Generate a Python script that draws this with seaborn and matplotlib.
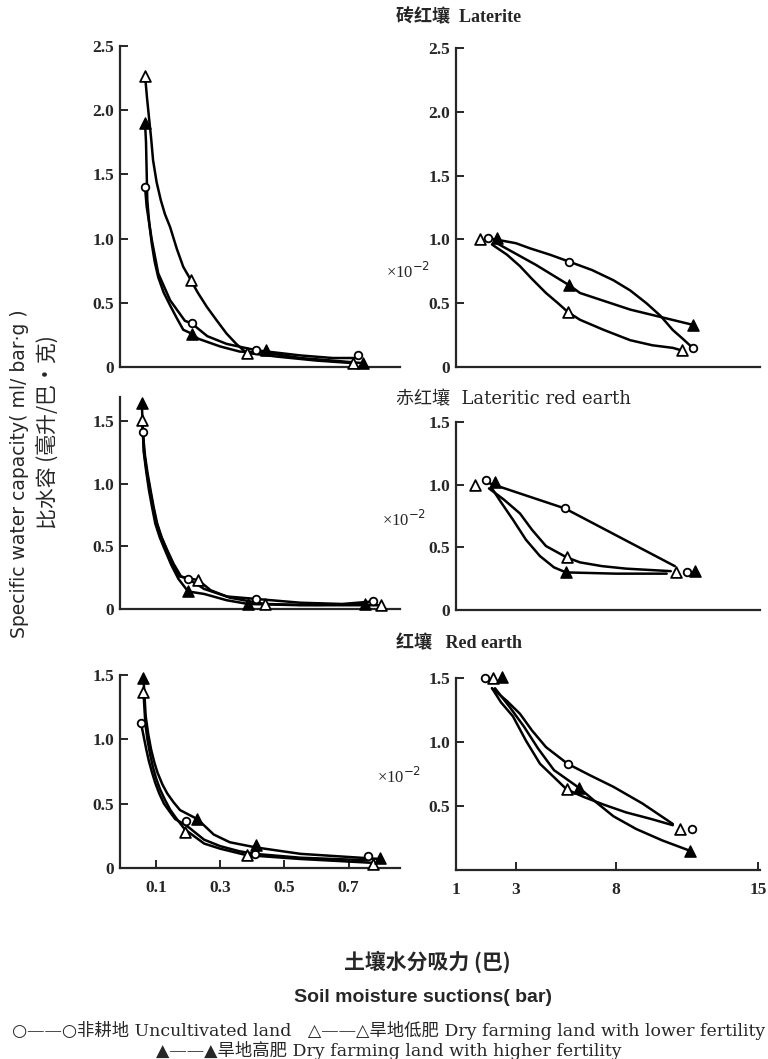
import matplotlib
import matplotlib.pyplot as plt
import numpy as np
import seaborn as sns

# Use the Agg backend, no display here
matplotlib.use("Agg")

W, H = 768, 1059

# ---- data ----
# marker points (x = suction in bar, y = specific water capacity)
# Laterite, low suction
lat_lo_unc_x = [0.066, 0.211, 0.413, 0.729]
lat_lo_unc_y = [1.40, 0.34, 0.13, 0.09]
lat_lo_low_x = [0.066, 0.208, 0.382, 0.715]
lat_lo_low_y = [2.27, 0.68, 0.11, 0.03]
lat_lo_high_x = [0.066, 0.211, 0.444, 0.745]
lat_lo_high_y = [1.90, 0.26, 0.13, 0.03]
# hand-drawn curves
lat_lo_unc_cx = [0.066, 0.071, 0.087, 0.107, 0.144, 0.19, 0.211, 0.26, 0.32, 0.413, 0.55, 0.65, 0.729]
lat_lo_unc_cy = [1.40, 1.25, 0.99, 0.73, 0.52, 0.36, 0.34, 0.24, 0.18, 0.13, 0.09, 0.07, 0.07]
lat_lo_low_cx = [0.066, 0.072, 0.078, 0.085, 0.091, 0.102, 0.115, 0.128, 0.144, 0.165, 0.185, 0.208,
                 0.23, 0.258, 0.29, 0.32, 0.35, 0.382, 0.48, 0.6, 0.715]
lat_lo_low_cy = [2.27, 2.10, 1.95, 1.78, 1.61, 1.44, 1.30, 1.19, 1.09, 0.92, 0.78, 0.68,
                 0.58, 0.47, 0.36, 0.26, 0.18, 0.11, 0.08, 0.05, 0.03]
lat_lo_high_cx = [0.066, 0.069, 0.073, 0.079, 0.087, 0.096, 0.107, 0.124, 0.144, 0.165, 0.185, 0.211,
                  0.232, 0.30, 0.361, 0.444, 0.55, 0.65, 0.745]
lat_lo_high_cy = [1.90, 1.75, 1.30, 1.12, 0.96, 0.82, 0.70, 0.58, 0.48, 0.38, 0.29, 0.26,
                  0.22, 0.16, 0.12, 0.11, 0.07, 0.05, 0.03]

# Laterite, high suction (x10^-2)
lat_hi_unc_x = [2.08, 5.67, 11.78]
lat_hi_unc_y = [1.01, 0.825, 0.15]
lat_hi_low_x = [1.8, 5.6, 11.24]
lat_hi_low_y = [1.0, 0.43, 0.13]
lat_hi_high_x = [2.36, 5.67, 11.8]
lat_hi_high_y = [1.01, 0.64, 0.33]
lat_hi_unc_cx = [2.08, 3.0, 3.7, 4.7, 5.67, 6.8, 7.87, 8.7, 9.5, 10.2, 10.8, 11.3, 11.78]
lat_hi_unc_cy = [1.01, 0.97, 0.93, 0.88, 0.825, 0.76, 0.68, 0.60, 0.50, 0.40, 0.29, 0.22, 0.15]
lat_hi_low_cx = [2.2, 2.7, 3.2, 3.8, 4.5, 5.1, 5.6, 6.2, 7.4, 8.7, 9.8, 10.8, 11.24]
lat_hi_low_cy = [0.96, 0.88, 0.79, 0.69, 0.58, 0.50, 0.43, 0.37, 0.29, 0.21, 0.17, 0.15, 0.13]
lat_hi_high_cx = [2.36, 4.0, 5.67, 6.2, 8.7, 11.8]
lat_hi_high_cy = [0.97, 0.80, 0.64, 0.58, 0.45, 0.33]

# Lateritic red earth, low suction
lre_lo_unc_x = [0.059, 0.20, 0.413, 0.776]
lre_lo_unc_y = [1.41, 0.24, 0.08, 0.06]
lre_lo_low_x = [0.056, 0.232, 0.439, 0.80]
lre_lo_low_y = [1.51, 0.23, 0.04, 0.03]
lre_lo_high_x = [0.056, 0.20, 0.387, 0.75]
lre_lo_high_y = [1.64, 0.14, 0.04, 0.04]
lre_lo_unc_cx = [0.059, 0.066, 0.074, 0.083, 0.093, 0.104, 0.118, 0.135, 0.155, 0.178, 0.20,
                 0.25, 0.32, 0.413, 0.55, 0.68, 0.776]
lre_lo_unc_cy = [1.41, 1.22, 1.08, 0.95, 0.81, 0.68, 0.57, 0.47, 0.36, 0.26, 0.24,
                 0.16, 0.10, 0.08, 0.05, 0.04, 0.06]
lre_lo_low_cx = [0.056, 0.063, 0.071, 0.08, 0.09, 0.10, 0.114, 0.13, 0.15, 0.172, 0.232,
                 0.27, 0.33, 0.439, 0.6, 0.80]
lre_lo_low_cy = [1.51, 1.25, 1.10, 0.97, 0.83, 0.70, 0.59, 0.49, 0.37, 0.26, 0.23,
                 0.15, 0.09, 0.04, 0.03, 0.03]
lre_lo_high_cx = [0.056, 0.062, 0.07, 0.078, 0.088, 0.098, 0.112, 0.128, 0.148, 0.17, 0.20,
                  0.25, 0.32, 0.387, 0.55, 0.75]
lre_lo_high_cy = [1.64, 1.25, 1.09, 0.95, 0.81, 0.68, 0.57, 0.47, 0.35, 0.24, 0.14,
                  0.12, 0.07, 0.04, 0.03, 0.04]

# Lateritic red earth, high suction (x10^-2)
lre_hi_unc_x = [2.0, 5.45, 11.5]
lre_hi_unc_y = [1.04, 0.81, 0.30]
lre_hi_low_x = [1.63, 5.53, 10.96]
lre_hi_low_y = [1.0, 0.42, 0.30]
lre_hi_high_x = [2.3, 5.5, 11.9]
lre_hi_high_y = [1.02, 0.30, 0.31]
lre_hi_unc_cx = [2.0, 5.45, 10.9]
lre_hi_unc_cy = [1.02, 0.81, 0.35]
lre_hi_low_cx = [2.1, 2.6, 3.2, 3.8, 4.5, 5.53, 6.2, 7.3, 8.5, 10.7]
lre_hi_low_cy = [0.97, 0.88, 0.77, 0.64, 0.51, 0.42, 0.38, 0.35, 0.33, 0.31]
lre_hi_high_cx = [2.2, 2.5, 2.9, 3.5, 4.2, 4.9, 5.5, 8.0, 10.5]
lre_hi_high_cy = [0.97, 0.86, 0.72, 0.56, 0.43, 0.34, 0.30, 0.29, 0.29]

# Red earth, low suction
red_lo_unc_x = [0.053, 0.195, 0.408, 0.76]
red_lo_unc_y = [1.13, 0.365, 0.11, 0.09]
red_lo_low_x = [0.061, 0.19, 0.382, 0.776]
red_lo_low_y = [1.37, 0.28, 0.10, 0.03]
red_lo_high_x = [0.061, 0.229, 0.411, 0.797]
red_lo_high_y = [1.48, 0.38, 0.18, 0.08]
red_lo_unc_cx = [0.053, 0.062, 0.07, 0.078, 0.088, 0.098, 0.11, 0.125, 0.142, 0.16, 0.195,
                 0.25, 0.30, 0.36, 0.408, 0.55, 0.76]
red_lo_unc_cy = [1.13, 1.02, 0.92, 0.83, 0.74, 0.66, 0.58, 0.50, 0.44, 0.38, 0.33,
                 0.22, 0.17, 0.13, 0.11, 0.08, 0.06]
red_lo_low_cx = [0.061, 0.067, 0.074, 0.082, 0.09, 0.10, 0.113, 0.128, 0.145, 0.165, 0.19,
                 0.25, 0.30, 0.382, 0.55, 0.776]
red_lo_low_cy = [1.37, 1.12, 0.99, 0.88, 0.79, 0.70, 0.61, 0.53, 0.45, 0.38, 0.30,
                 0.19, 0.15, 0.10, 0.07, 0.04]
red_lo_high_cx = [0.061, 0.068, 0.076, 0.085, 0.095, 0.105, 0.12, 0.135, 0.155, 0.175, 0.229,
                  0.28, 0.33, 0.411, 0.55, 0.797]
red_lo_high_cy = [1.48, 1.18, 1.04, 0.92, 0.82, 0.74, 0.65, 0.58, 0.51, 0.45, 0.38,
                  0.26, 0.20, 0.16, 0.11, 0.07]

# Red earth, high suction (x10^-2)
red_hi_unc_x = [1.97, 5.58, 11.73]
red_hi_unc_y = [1.5, 0.83, 0.32]
red_hi_low_x = [2.22, 5.53, 11.15]
red_hi_low_y = [1.5, 0.63, 0.32]
red_hi_high_x = [2.52, 6.17, 11.65]
red_hi_high_y = [1.51, 0.64, 0.15]
red_hi_unc_cx = [2.2, 2.7, 3.2, 3.8, 4.5, 5.58, 6.7, 7.87, 9.3, 10.8]
red_hi_unc_cy = [1.42, 1.32, 1.22, 1.09, 0.96, 0.83, 0.74, 0.65, 0.52, 0.36]
red_hi_low_cx = [2.2, 2.5, 2.9, 3.5, 4.2, 5.2, 5.53, 6.4, 7.4, 8.5, 9.7, 10.8]
red_hi_low_cy = [1.42, 1.31, 1.2, 1.01, 0.83, 0.68, 0.63, 0.57, 0.51, 0.45, 0.40, 0.35]
red_hi_high_cx = [2.3, 2.8, 3.4, 4.1, 4.9, 6.17, 7.0, 7.87, 9.0, 10.3, 11.65]
red_hi_high_cy = [1.42, 1.27, 1.12, 0.95, 0.78, 0.64, 0.53, 0.42, 0.32, 0.23, 0.15]

# ticks
y_ticks_25 = [0, 0.5, 1.0, 1.5, 2.0, 2.5]
y_labels_25 = ["0", "0.5", "1.0", "1.5", "2.0", "2.5"]
y_ticks_15 = [0, 0.5, 1.0, 1.5]
y_labels_15 = ["0", "0.5", "1.0", "1.5"]
y_ticks_15b = [0.5, 1.0, 1.5]
y_labels_15b = ["0.5", "1.0", "1.5"]
x_ticks_lo = [0.1, 0.3, 0.5, 0.7]
x_labels_lo = ["0.1", "0.3", "0.5", "0.7"]
x_ticks_hi = [1, 3, 8, 15]
x_labels_hi = ["1", "3", "8", "15"]

# the printed suction axis on the right is unevenly spaced
scale_vals = [0, 1, 3, 8, 15, 20]
scale_pos = [-30, 0, 60, 160, 302, 403]

SERIF = ["Liberation Serif", "Noto Sans CJK SC", "DejaVu Sans"]
WIDE_SERIF = ["DejaVu Serif", "Noto Sans CJK SC", "DejaVu Sans"]
CJK = ["Noto Sans CJK SC", "DejaVu Sans"]


def fwd(x):
    return np.interp(x, scale_vals, scale_pos)


def inv(p):
    return np.interp(p, scale_pos, scale_vals)


def px_box(x0, y0, x1, y1):
    """Axes rectangle from pixel corners (top-left origin)."""
    return [x0 / W, 1 - y1 / H, (x1 - x0) / W, (y1 - y0) / H]


def fig_text(fig, x, y, s, **kw):
    fig.text(x / W, 1 - y / H, s, **kw)


def draw_panel(ax, series):
    for mx, my, cx, cy, kind in series:
        sns.lineplot(x=cx, y=cy, ax=ax, color="black", lw=1.8,
                     sort=False, estimator=None, clip_on=False)
        if kind == "circle":
            sns.scatterplot(x=mx, y=my, ax=ax, marker="o", s=30, color="white",
                            edgecolor="black", linewidth=1.3, zorder=4, clip_on=False)
        elif kind == "open":
            sns.scatterplot(x=mx, y=my, ax=ax, marker="^", s=60, color="white",
                            edgecolor="black", linewidth=1.3, zorder=4, clip_on=False)
        else:
            sns.scatterplot(x=mx, y=my, ax=ax, marker="^", s=65, color="black",
                            edgecolor="black", linewidth=1.0, zorder=4, clip_on=False)


def style_axes(ax, yticks, ylabels, xticks=None, xlabels=None):
    sns.despine(ax=ax)
    for side in ("left", "bottom"):
        ax.spines[side].set_linewidth(1.6)
    ax.set_yticks(yticks)
    ax.set_yticklabels(ylabels, fontfamily=SERIF, fontsize=12.5, fontweight="bold")
    if xticks is None:
        ax.set_xticks([])
    else:
        ax.set_xticks(xticks)
        ax.set_xticklabels(xlabels, fontfamily=SERIF, fontsize=12.5, fontweight="bold")
    ax.tick_params(axis="y", direction="in", length=6, width=1.4, pad=4)
    ax.tick_params(axis="x", direction="in", length=6, width=1.4, pad=9)
    ax.minorticks_off()
    ax.set_xlabel("")
    ax.set_ylabel("")


sns.set_theme(style="ticks")
plt.rcParams["font.family"] = SERIF

fig = plt.figure(figsize=(W / 100, H / 100), dpi=100)

panels = [
    (px_box(120, 46, 400, 367), "lo", (0, 2.5), y_ticks_25, y_labels_25, False, [
        (lat_lo_unc_x, lat_lo_unc_y, lat_lo_unc_cx, lat_lo_unc_cy, "circle"),
        (lat_lo_low_x, lat_lo_low_y, lat_lo_low_cx, lat_lo_low_cy, "open"),
        (lat_lo_high_x, lat_lo_high_y, lat_lo_high_cx, lat_lo_high_cy, "filled")]),
    (px_box(456, 48, 760, 367), "hi", (0, 2.5), y_ticks_25, y_labels_25, False, [
        (lat_hi_unc_x, lat_hi_unc_y, lat_hi_unc_cx, lat_hi_unc_cy, "circle"),
        (lat_hi_low_x, lat_hi_low_y, lat_hi_low_cx, lat_hi_low_cy, "open"),
        (lat_hi_high_x, lat_hi_high_y, lat_hi_high_cx, lat_hi_high_cy, "filled")]),
    (px_box(120, 397, 400, 609), "lo", (0, 1.69), y_ticks_15, y_labels_15, False, [
        (lre_lo_unc_x, lre_lo_unc_y, lre_lo_unc_cx, lre_lo_unc_cy, "circle"),
        (lre_lo_low_x, lre_lo_low_y, lre_lo_low_cx, lre_lo_low_cy, "open"),
        (lre_lo_high_x, lre_lo_high_y, lre_lo_high_cx, lre_lo_high_cy, "filled")]),
    (px_box(456, 422, 760, 610), "hi", (0, 1.5), y_ticks_15, y_labels_15, False, [
        (lre_hi_unc_x, lre_hi_unc_y, lre_hi_unc_cx, lre_hi_unc_cy, "circle"),
        (lre_hi_low_x, lre_hi_low_y, lre_hi_low_cx, lre_hi_low_cy, "open"),
        (lre_hi_high_x, lre_hi_high_y, lre_hi_high_cx, lre_hi_high_cy, "filled")]),
    (px_box(120, 675, 400, 868), "lo", (0, 1.5), y_ticks_15, y_labels_15, True, [
        (red_lo_unc_x, red_lo_unc_y, red_lo_unc_cx, red_lo_unc_cy, "circle"),
        (red_lo_low_x, red_lo_low_y, red_lo_low_cx, red_lo_low_cy, "open"),
        (red_lo_high_x, red_lo_high_y, red_lo_high_cx, red_lo_high_cy, "filled")]),
    (px_box(456, 678, 760, 870), "hi", (0, 1.5), y_ticks_15b, y_labels_15b, True, [
        (red_hi_unc_x, red_hi_unc_y, red_hi_unc_cx, red_hi_unc_cy, "circle"),
        (red_hi_low_x, red_hi_low_y, red_hi_low_cx, red_hi_low_cy, "open"),
        (red_hi_high_x, red_hi_high_y, red_hi_high_cx, red_hi_high_cy, "filled")]),
]

for box, kind, ylim, yt, yl, bottom, series in panels:
    ax = fig.add_axes(box)
    ax.set_facecolor("white")
    if kind == "hi":
        ax.set_xscale("function", functions=(fwd, inv))
    draw_panel(ax, series)
    if kind == "hi":
        ax.set_xlim(1, 15.1)
        style_axes(ax, yt, yl, x_ticks_hi if bottom else None, x_labels_hi if bottom else None)
    else:
        ax.set_xlim(-0.012, 0.86)
        style_axes(ax, yt, yl, x_ticks_lo if bottom else None, x_labels_lo if bottom else None)
    ax.set_ylim(*ylim)

# soil type headings
fig_text(fig, 396, 18, "砖红壤  Laterite", ha="left", va="center",
         fontsize=13, fontweight="bold", family=SERIF)
fig_text(fig, 396, 399, "赤红壤  Lateritic red earth", ha="left", va="center",
         fontsize=13, family=WIDE_SERIF)
fig_text(fig, 396, 644, "红壤   Red earth", ha="left", va="center",
         fontsize=13, fontweight="bold", family=SERIF)

# multiplier for the right-hand panels
for x, y in [(386, 272), (382, 520), (377, 777)]:
    fig_text(fig, x, y, "×10$^{-2}$", ha="left", va="center",
             fontsize=12, family=SERIF)

# axis titles
fig_text(fig, 20, 474, "Specific water capacity( ml/ bar·g )", rotation=90,
         ha="center", va="center", fontsize=13.5, family=["DejaVu Sans"])
fig_text(fig, 48, 432, "比水容 (毫升/巴·克)", rotation=90,
         ha="center", va="center", fontsize=15, family=CJK)
fig_text(fig, 427, 962, "土壤水分吸力 (巴)", ha="center", va="center",
         fontsize=15, fontweight="bold", family=CJK)
fig_text(fig, 423, 998, "Soil moisture suctions( bar)", ha="center", va="center",
         fontsize=14, fontweight="bold", family=["Liberation Sans", "DejaVu Sans"])

# key
fig_text(fig, 389, 1030,
         "○——○非耕地 Uncultivated land   △——△旱地低肥 Dry farming land with lower fertility",
         ha="center", va="center", fontsize=12.5, family=WIDE_SERIF)
fig_text(fig, 389, 1050,
         "▲——▲旱地高肥 Dry farming land with higher fertility",
         ha="center", va="center", fontsize=12.5, family=WIDE_SERIF)

fig.savefig("out.png", dpi=100, facecolor="white")
